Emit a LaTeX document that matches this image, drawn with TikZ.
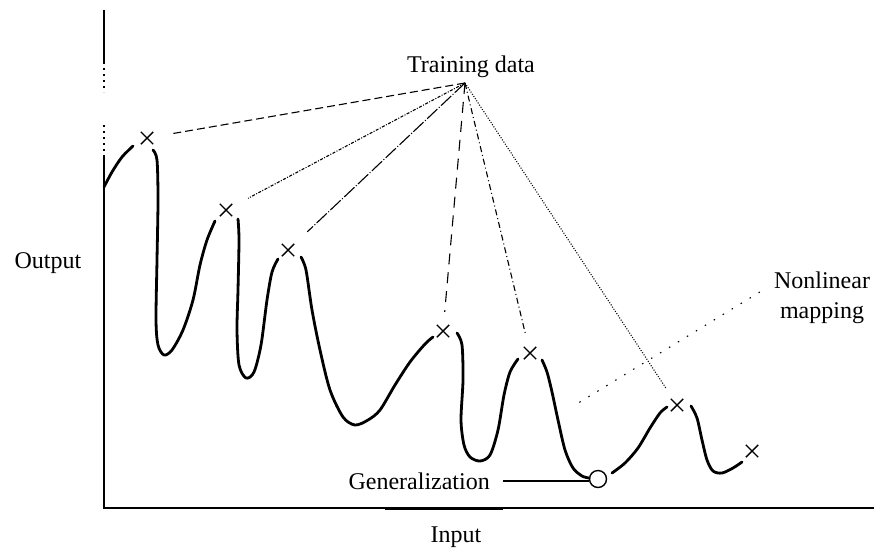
\documentclass[tikz,border=0pt]{standalone}
\usepackage{fontspec}
\setmainfont{Liberation Serif}
\usetikzlibrary{shapes.misc,calc}
\begin{document}
\begin{tikzpicture}[x=1pt,y=-1pt,
  lbl/.style={font=\fontsize{24}{30}\selectfont, inner sep=0pt, align=center},
  xmark/.style={cross out, draw, minimum size=11pt, inner sep=0pt, line width=1.4pt},
  genpt/.style={circle, draw, minimum size=17pt, inner sep=0pt, line width=1.4pt},
  axis/.style={line width=1.4pt},
  mapcurve/.style={line width=2.8pt, line cap=round, line join=round},
  link/.style={line width=1.1pt},
]
\useasboundingbox (0,0) rectangle (874,550);

% axes
\draw[axis] (104,10) -- (104,62);
\draw[axis, dash pattern=on 2pt off 4pt] (104,62) -- (104,92);
\draw[axis, dash pattern=on 2pt off 4pt] (104,125) -- (104,155);
\draw[axis] (104,155) -- (104,508) -- (874,508);
\draw[line width=3pt] (385,508) -- (503,508);

% labels
\node[lbl] (output) at (48,263) {Output};
\node[lbl] (input) at (456,537) {Input};
\node[lbl] (train) at (471,67) {Training data};
\node[lbl] (nonlin) at (822,298) {Nonlinear\\mapping};
\node[lbl, anchor=east] (gen) at (490,481) {Generalization};
\coordinate (apex) at (465,83);

% training points and generalization point
\node[xmark] (p1) at (147,138) {};
\node[xmark] (p2) at (226,210) {};
\node[xmark] (p3) at (288,250) {};
\node[xmark] (p4) at (443,331) {};
\node[xmark] (p5) at (530,353) {};
\node[xmark] (p6) at (677,405) {};
\node[xmark] (p7) at (752,451) {};
\node[genpt] (circ) at (598,479) {};

% nonlinear mapping curve
\draw[mapcurve] plot[smooth] coordinates {(104,187) (112,172) (122,157) (133,146)};
\draw[mapcurve] plot[smooth] coordinates {(153,150) (157,160) (158,200) (157,260) (156,320) (158,345) (164,355) (172,350) (183,330) (193,300) (200,265) (207,240) (215,221)};
\draw[mapcurve] plot[smooth] coordinates {(238,219) (239,240) (238,290) (237,330) (239,365) (246,378) (254,372) (261,345) (267,300) (272,272) (278,259)};
\draw[mapcurve] plot[smooth] coordinates {(301,257) (306,270) (312,310) (320,350) (330,390) (343,417) (355,425) (368,420) (380,410) (395,385) (410,362) (425,344) (433,337)};
\draw[mapcurve] plot[smooth] coordinates {(457,333) (462,345) (463,380) (461,420) (464,445) (470,457) (480,461) (490,455) (498,430) (504,395) (510,372) (518,359)};
\draw[mapcurve] plot[smooth] coordinates {(542,360) (547,372) (552,392) (558,420) (565,450) (573,468) (582,476) (589,478)};
\draw[mapcurve] plot[smooth] coordinates {(612,473) (625,463) (638,448) (650,428) (660,413) (667,407)};
\draw[mapcurve] plot[smooth] coordinates {(691,406) (697,418) (702,440) (707,460) (713,471) (722,473) (733,468) (742,462)};

% links from the training data label
\draw[link, dash pattern=on 8pt off 4pt, shorten >=17pt] (apex) -- (p1);
\draw[link, dash pattern=on 3pt off 1.5pt on 1pt off 1.5pt, shorten >=18pt] (apex) -- (p2);
\draw[link, dash pattern=on 14pt off 2pt on 1pt off 2pt, shorten >=18pt] (apex) -- (p3);
\draw[link, dash pattern=on 11pt off 8pt, shorten >=13pt] (apex) -- (p4);
\draw[link, dash pattern=on 6pt off 3pt on 1pt off 3pt, shorten >=12pt] (apex) -- (p5);
\draw[link, dash pattern=on 1pt off 1.6pt, shorten >=12pt] (apex) -- (p6);

% nonlinear mapping pointer
\draw[link, dash pattern=on 1.5pt off 9pt] ($(nonlin.west)+(-14,-6)$) -- (575,405);

% generalization pointer
\draw[link] ([xshift=13pt]gen.east) -- (gen.east -| circ.west);
\end{tikzpicture}
\end{document}
